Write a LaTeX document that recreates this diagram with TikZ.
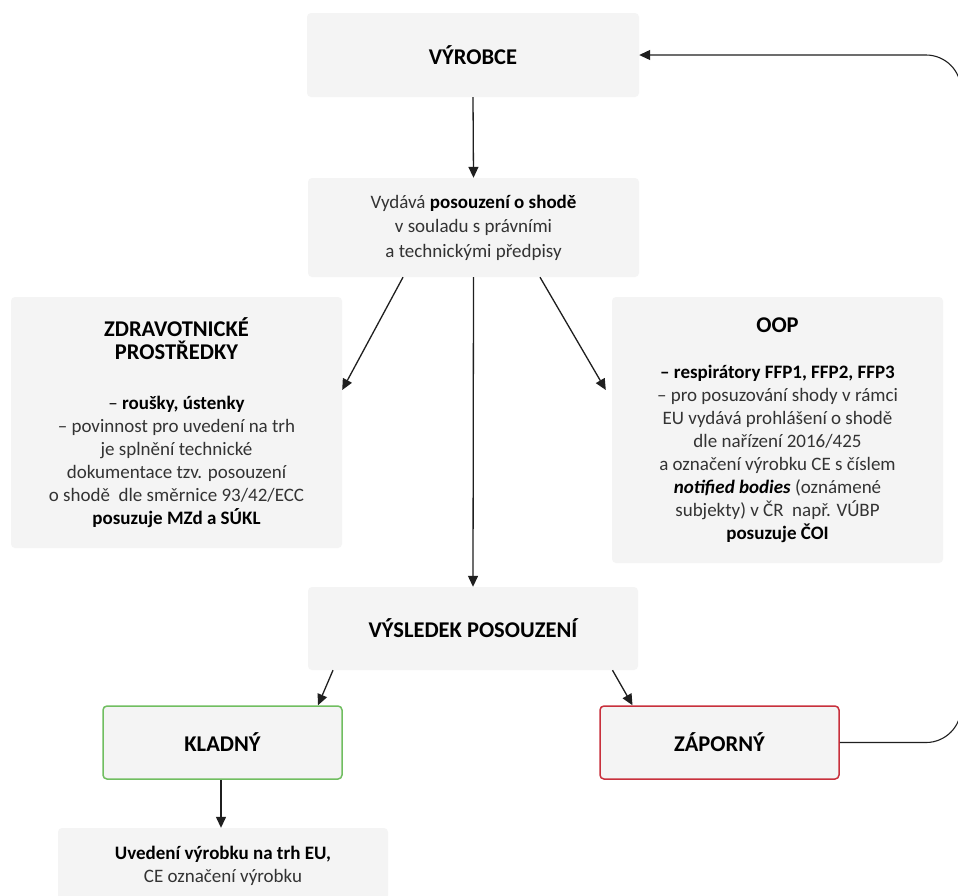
\documentclass[tikz,border=0pt]{standalone}
\usepackage{fontspec}
\setmainfont{Carlito}
\usetikzlibrary{arrows.meta,calc}
\definecolor{boxgray}{HTML}{F4F4F4}
\definecolor{okgreen}{RGB}{112,190,96}
\definecolor{badred}{RGB}{200,48,60}
\definecolor{txtgray}{HTML}{333333}
\newcommand\ttlx[1]{{\fontsize{22.5}{24}\selectfont\bfseries\color{black}#1}}
\newcommand\bdx[1]{{\bfseries\color{black}#1}}
\begin{document}
\begin{tikzpicture}[x=1pt,y=-1pt,
  box/.style={fill=boxgray, rounded corners=4pt, inner sep=0pt, align=center,
    text=txtgray, font=\fontsize{19}{23}\selectfont},
  okbox/.style={box, draw=okgreen, line width=1.5pt},
  badbox/.style={box, draw=badred, line width=1.5pt},
  arr/.style={draw=black!88, line width=1.3pt, -{Triangle[length=11pt,width=10pt]}},
  fb/.style={draw=black!88, line width=1.1pt, rounded corners=35pt, -{Triangle[length=11pt,width=10pt]}}]
\clip (0,0) rectangle (958,895);
\fill[white] (0,0) rectangle (958,895);

\node[box, minimum width=332pt, minimum height=84pt] (vyrobce) at (473,55) {\ttlx{VÝROBCE}};
\node[box, minimum width=331pt, minimum height=99pt, font=\fontsize{19}{24.5}\selectfont] (vydava) at (473.5,227.5)
  {Vydává \bdx{posouzení o shodě}\\ v souladu s právními\\ a technickými předpisy};
\node[box, minimum width=331pt, minimum height=251pt] (zdrav) at (176.5,422.5)
  {\ttlx{ZDRAVOTNICKÉ}\\ \ttlx{PROSTŘEDKY}\\[27pt]
   \bdx{\textmd{–} roušky, ústenky}\\
   – povinnost pro uvedení na trh\\
   je splnění technické\\
   dokumentace tzv. posouzení\\
   o shodě \ dle směrnice 93/42/ECC\\
   \bdx{posuzuje MZd a SÚKL}};
\node[box, minimum width=331pt, minimum height=266pt] (oop) at (777.5,430)
  {\ttlx{OOP}\\[23pt]
   \bdx{– respirátory FFP1, FFP2, FFP3}\\
   – pro posuzování shody v rámci\\
   EU vydává prohlášení o shodě\\
   dle nařízení 2016/425\\
   a označení výrobku CE s číslem\\
   \bdx{\itshape notified bodies} (oznámené\\
   subjekty) v ČR \ např. VÚBP\\
   \bdx{posuzuje ČOI}};
\node[box, minimum width=330pt, minimum height=83pt] (vysledek) at (473,628.5) {\ttlx{VÝSLEDEK POSOUZENÍ}};
\node[okbox, minimum width=239pt, minimum height=73pt] (kladny) at (222.5,742.5) {\ttlx{KLADNÝ}};
\node[badbox, minimum width=239pt, minimum height=73pt] (zaporny) at (719.5,742.5) {\ttlx{ZÁPORNÝ}};
\node[box, minimum width=330pt, minimum height=76pt] (uvedeni) at (223,866)
  {\bdx{Uvedení výrobku na trh EU,}\\ CE označení výrobku};

\draw[arr] (vyrobce.south) -- (vydava.north);
\draw[arr] ([xshift=-70.5pt]vydava.south) -- ([yshift=32.5pt]zdrav.east);
\draw[arr] ([xshift=66.5pt]vydava.south) -- ([shift={(-6pt,40pt)}]oop.west);
\draw[arr] (vydava.south) -- (vysledek.north);
\draw[arr] ([xshift=-140pt]vysledek.south) -- ([xshift=95.5pt]kladny.north);
\draw[arr] ([xshift=139.5pt]vysledek.south) -- ([xshift=-87pt]zaporny.north);
\draw[arr] ([xshift=-1.5pt]kladny.south) -- ([xshift=-2pt]uvedeni.north);
\coordinate (fbk) at (961,55);
\draw[fb] (zaporny.east) -| (fbk) -- (vyrobce.east);
\end{tikzpicture}
\end{document}
